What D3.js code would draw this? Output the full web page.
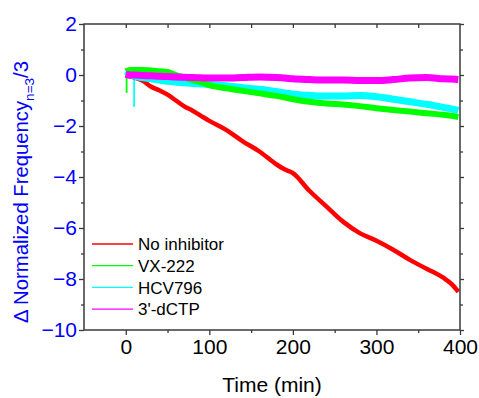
<!DOCTYPE html>
<html>
<head>
<meta charset="utf-8">
<script src="https://cdn.jsdelivr.net/npm/d3@7"></script>
<style>
    body { margin: 0; background: #fff; }
    svg { font-family: 'Liberation Sans', Arial, sans-serif; }
</style>
</head>
<body>
<div class="d3-line-chart"></div>
<script>
// time points (min), shared by all traces
var time = [0, 5, 10, 20, 30, 40, 50, 60, 70, 80, 90, 100, 120, 140, 160, 180, 190, 200,
            220, 240, 260, 280, 300, 320, 340, 360, 380, 390, 398];

var noInhibitor = [0, -0.05, -0.1, -0.22, -0.45, -0.6, -0.77, -1.0, -1.23, -1.4, -1.6, -1.8,
                   -2.15, -2.6, -3.0, -3.5, -3.7, -3.85, -4.55, -5.15, -5.75, -6.2, -6.5, -6.85, -7.25, -7.6, -7.95, -8.2, -8.5];
var vx222 = [0.15, 0.2, 0.2, 0.2, 0.18, 0.15, 0.12, 0.0, -0.1, -0.2, -0.28, -0.4,
             -0.52, -0.62, -0.72, -0.82, -0.88, -0.95, -1.05, -1.12, -1.16, -1.22, -1.3, -1.37, -1.43, -1.5, -1.56, -1.6, -1.65];
var hcv796 = [0.15, 0.05, -0.05, -0.1, -0.15, -0.2, -0.25, -0.28, -0.3, -0.33, -0.35, -0.37,
              -0.42, -0.5, -0.56, -0.65, -0.7, -0.75, -0.8, -0.82, -0.82, -0.8, -0.85, -0.95, -1.05, -1.15, -1.27, -1.33, -1.4];
var dctp = [0.02, 0.0, 0.0, -0.02, -0.03, -0.05, -0.06, -0.08, -0.09, -0.1, -0.11, -0.12,
            -0.12, -0.1, -0.08, -0.1, -0.12, -0.15, -0.18, -0.2, -0.2, -0.22, -0.22, -0.18, -0.12, -0.1, -0.15, -0.16, -0.18];

// short downward spikes at the start of two traces: [time, top, bottom]
var vx222Spike = [1, 0.1, -0.7];
var hcv796Spike = [10, 0.0, -1.25];

var seriesNames = ['No inhibitor', 'VX-222', 'HCV796', "3'-dCTP"];
var seriesColors = ['#ff0000', '#00ff00', '#00ffff', '#ff00ff'];

var xTicks = [0, 100, 200, 300, 400];
var yTicks = [-10, -8, -6, -4, -2, 0, 2];

var svg_width = 479, svg_height = 398;
var margin = { top: 24, right: 19, bottom: 68, left: 84 };
var chart_width = svg_width - margin.left - margin.right;
var chart_height = svg_height - margin.top - margin.bottom;

var svg = d3.select('.d3-line-chart').append('svg')
    .attr('width', svg_width)
    .attr('height', svg_height);

var g = svg.append('g')
    .attr('transform', 'translate(' + margin.left + ',' + margin.top + ')');

var x = d3.scaleLinear().domain([-50, 400]).range([0, chart_width]);
var y = d3.scaleLinear().domain([-10, 2]).range([chart_height, 0]);

var axisColor = '#3a3a3a';

// traces: drawn thick to stand in for the measurement noise band
var traces = [
    { values: noInhibitor, color: seriesColors[0], width: 4.5 },
    { values: hcv796, color: seriesColors[2], width: 7 },
    { values: vx222, color: seriesColors[1], width: 6 },
    { values: dctp, color: seriesColors[3], width: 7 }
];

var line = d3.line()
    .curve(d3.curveMonotoneX)
    .x(function(d) { return x(d[0]); })
    .y(function(d) { return y(d[1]); });

// spikes first, under the traces
[[vx222Spike, seriesColors[1]], [hcv796Spike, seriesColors[2]]].forEach(function(s) {
    g.append('line')
        .attr('x1', x(s[0][0])).attr('x2', x(s[0][0]))
        .attr('y1', y(s[0][1])).attr('y2', y(s[0][2]))
        .attr('stroke', s[1])
        .attr('stroke-width', 1.8);
});

traces.forEach(function(t) {
    g.append('path')
        .datum(time.map(function(tm, i) { return [tm, t.values[i]]; }))
        .attr('fill', 'none')
        .attr('stroke', t.color)
        .attr('stroke-width', t.width)
        .attr('stroke-linejoin', 'round')
        .attr('d', line);
});

// axes
var xBottom = g.append('g')
    .attr('transform', 'translate(0,' + chart_height + ')')
    .call(d3.axisBottom(x).tickValues(xTicks).tickSize(5).tickPadding(4).tickFormat(d3.format('d')));
var xMinor = g.append('g')
    .attr('transform', 'translate(0,' + chart_height + ')')
    .call(d3.axisBottom(x).tickValues([50, 150, 250, 350]).tickSize(3).tickFormat(''));
var xTop = g.append('g')
    .call(d3.axisBottom(x).tickValues([0, 50, 100, 150, 200, 250, 300, 350]).tickSize(4).tickFormat(''));

var yLeft = g.append('g')
    .call(d3.axisLeft(y).tickValues(yTicks).tickSize(5).tickPadding(2).tickFormat(d3.format('d')));
var yMinor = g.append('g')
    .call(d3.axisLeft(y).tickValues([-9, -7, -5, -3, -1, 1]).tickSize(3).tickFormat(''));
var yRight = g.append('g')
    .attr('transform', 'translate(' + chart_width + ',0)')
    .call(d3.axisRight(y).tickValues(yTicks).tickSize(4).tickFormat(''));
var yRightMinor = g.append('g')
    .attr('transform', 'translate(' + chart_width + ',0)')
    .call(d3.axisRight(y).tickValues([-9, -7, -5, -3, -1, 1]).tickSize(3).tickFormat(''));

g.selectAll('.domain').remove();
g.selectAll('.tick line').attr('stroke', axisColor).attr('stroke-width', 1.3);

// frame
g.append('rect')
    .attr('width', chart_width)
    .attr('height', chart_height)
    .attr('fill', 'none')
    .attr('stroke', axisColor)
    .attr('stroke-width', 1.5);

xBottom.selectAll('text').attr('font-size', 21).attr('fill', '#000')
    .attr('font-family', "'Liberation Sans', Arial, sans-serif");
yLeft.selectAll('text').attr('font-size', 21).attr('fill', '#0000ff')
    .attr('font-family', "'Liberation Sans', Arial, sans-serif");

// axis titles
svg.append('text')
    .attr('x', margin.left + x(175))
    .attr('y', 392)
    .attr('text-anchor', 'middle')
    .attr('font-size', 21)
    .attr('fill', '#000')
    .text('Time (min)');

var yTitle = svg.append('text')
    .attr('transform', 'translate(28,' + (margin.top + chart_height / 2 + 15) + ') rotate(-90)')
    .attr('text-anchor', 'middle')
    .attr('font-size', 20.3)
    .attr('fill', '#0000ff');
yTitle.append('tspan').text('\u0394 Normalized Frequency');
yTitle.append('tspan').attr('font-size', 13.5).attr('dy', 6).text('n=3');
yTitle.append('tspan').attr('dy', -6).text('/3');

// legend
var legend = g.append('g')
    .attr('transform', 'translate(8,' + (244 - margin.top) + ')');
var rows = legend.selectAll('g')
    .data(seriesNames)
    .enter().append('g')
    .attr('transform', function(d, i) { return 'translate(0,' + (i * 21.7) + ')'; });
rows.append('line')
    .attr('x1', 0).attr('x2', 41)
    .attr('stroke', function(d, i) { return seriesColors[i]; })
    .attr('stroke-width', 1.3);
rows.append('text')
    .attr('x', 46)
    .attr('dy', '0.36em')
    .attr('font-size', 17)
    .attr('fill', '#000')
    .text(function(d) { return d; });
</script>
</body>
</html>
